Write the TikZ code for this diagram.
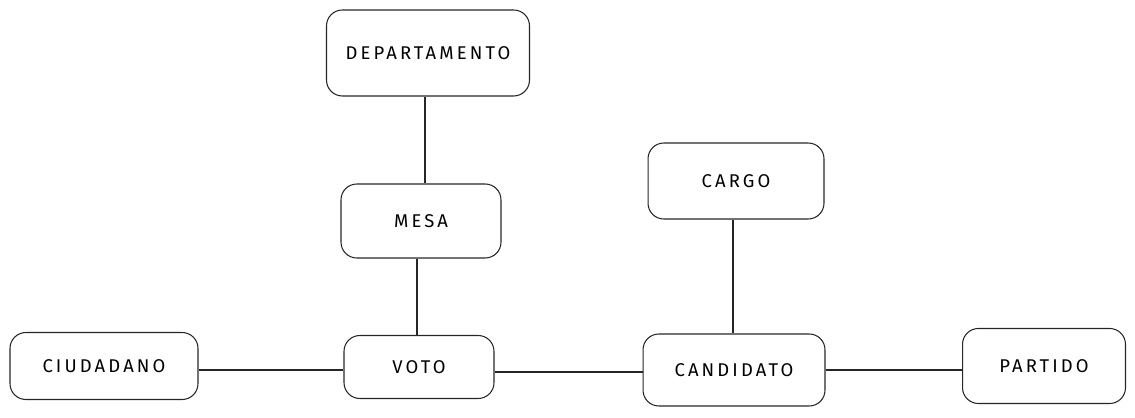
\documentclass[tikz,border=0pt]{standalone}
\usepackage{fontspec}
\newfontfamily\sketchfont[LetterSpace=17]{Fira Sans}
\usepackage{tikz}

\begin{document}
\begin{tikzpicture}[x=0.02cm,y=-0.02cm,line width=.6pt,font=\sketchfont\fontsize{10.5}{12}\selectfont,
  entity/.style={draw=black!85,rounded corners=9pt,inner sep=0pt,align=center},
  link/.style={draw=black!85}]
\useasboundingbox (0,0) rectangle (1135,418);
\node[entity,minimum width=4.06cm,minimum height=1.72cm] (depto) at (428,53) {DEPARTAMENTO};
\node[entity,minimum width=3.2cm,minimum height=1.48cm] (mesa) at (421,221) {MESA};
\node[entity,minimum width=3.52cm,minimum height=1.52cm] (cargo) at (736,181) {CARGO};
\node[entity,minimum width=3.76cm,minimum height=1.34cm] (ciud) at (104,366) {CIUDADANO};
\node[entity,minimum width=3.0cm,minimum height=1.26cm] (voto) at (419,367) {VOTO};
\node[entity,minimum width=3.64cm,minimum height=1.44cm] (cand) at (734,370) {CANDIDATO};
\node[entity,minimum width=3.26cm,minimum height=1.5cm] (partido) at (1044,366) {PARTIDO};
\draw[link] (depto.south) ++(-3,0) coordinate (d1) -- (d1 |- mesa.north);
\draw[link] (mesa.south) ++(-4,0) coordinate (m1) -- (m1 |- voto.north);
\draw[link] (cargo) ++(-3,0) coordinate (c1) (c1 |- cargo.south) -- (c1 |- cand.north);
\draw[link] (ciud.east) ++(0,4) coordinate (u1) -- (u1 -| voto.west);
\draw[link] (voto.east) ++(0,5) coordinate (v1) -- (v1 -| cand.west);
\draw[link] (cand.east) -- (cand.east -| partido.west);
\end{tikzpicture}
\end{document}
